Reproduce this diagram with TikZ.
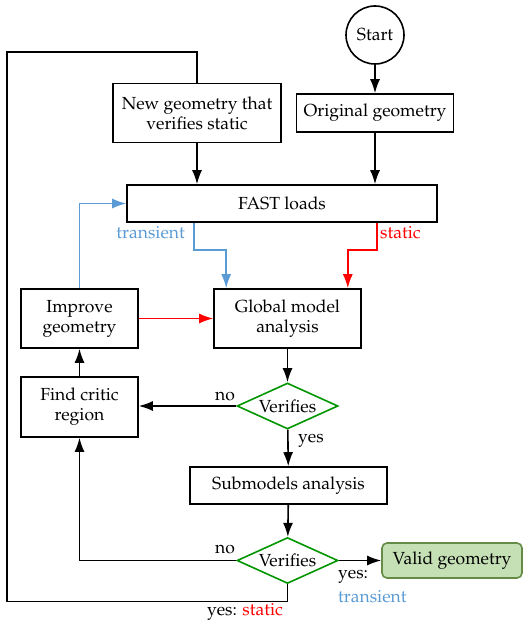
\documentclass[tikz,border=0pt]{standalone}
\usepackage[T1]{fontenc}
\usepackage{mathpazo}
\usetikzlibrary{shapes.geometric,arrows.meta,calc}
\definecolor{tblue}{RGB}{91,155,213}
\definecolor{vgreen}{RGB}{0,150,0}
\definecolor{okfill}{RGB}{197,224,180}
\definecolor{okdraw}{RGB}{100,140,70}
\begin{document}
\begin{tikzpicture}[x=1pt,y=-1pt,font=\fontsize{17.5}{20}\selectfont,
  box/.style={draw,line width=1.6pt,inner sep=0pt,align=center},
  dec/.style={diamond,draw=vgreen,line width=1.6pt,inner sep=0pt,aspect=2.2,minimum width=101pt,minimum height=46pt},
  arr/.style={-{Latex[length=14pt,width=10pt]},line width=1.6pt},
  ln/.style={line width=1.6pt},
  lab/.style={inner sep=0pt}]
\useasboundingbox (0,0) rectangle (532,623);
\node[draw,circle,line width=1.6pt,inner sep=0pt,minimum size=58pt] (start) at (375,35) {Start};
\node[box,minimum width=157pt,minimum height=38pt] (orig) at (375,113) {Original geometry};
\node[box,minimum width=168pt,minimum height=59pt] (newg) at (197,113) {New geometry that\\verifies static};
\node[box,minimum width=310pt,minimum height=37pt] (fast) at (282,203.5) {FAST loads};
\node[box,minimum width=147pt,minimum height=59pt] (glob) at (287.5,318.5) {Global model\\analysis};
\node[box,minimum width=117pt,minimum height=59pt] (imp) at (79.5,318.5) {Improve\\geometry};
\node[dec] (v1) at (287.5,406) {Verifies};
\node[box,minimum width=117pt,minimum height=60pt] (find) at (79.5,407) {Find critic\\region};
\node[box,minimum width=197pt,minimum height=37pt] (sub) at (288.5,485.5) {Submodels analysis};
\node[dec] (v2) at (287.5,560.5) {Verifies};
\node[box,draw=okdraw,fill=okfill,rounded corners=5pt,minimum width=140pt,minimum height=35pt] (valid) at (452,560.5) {Valid geometry};
\coordinate (lc) at (7,52);

\draw[arr] (start) -- (orig);
\draw[arr] (newg.south) -- (newg.south |- fast.north);
\draw[arr] (orig.south) -- (orig.south |- fast.north);
\draw[arr,tblue] ([xshift=68pt]fast.south west) -- ++(0,27) -| ([xshift=13pt]glob.north west);
\draw[arr,red] ([xshift=-61pt]fast.south east) -- ++(0,27) -| ([xshift=-14pt]glob.north east);
\node[lab,tblue,anchor=east] (tl) at (185,233) {transient};
\node[lab,red,anchor=west] (sl) at (380,233) {static};
\draw[arr,tblue] (imp.north) |- (fast.west);
\draw[arr,red] (imp.east) -- (glob.west);
\draw[arr] (glob) -- (v1);
\draw[arr] (v1.west) -- (v1.west -| find.east);
\node[lab] (no1) at (225,396) {no};
\draw[arr] (find) -- (imp);
\draw[arr] (v1) -- (sub);
\node[lab] (yes1) at (311,441) {yes};
\draw[arr] (sub) -- (v2);
\draw[arr] (v2.west) -| (find.south);
\node[lab] (no2) at (225,549) {no};
\draw[arr] (v2.east) -- (valid.west);
\node[lab,anchor=west] (yes2) at (338,577) {yes:};
\node[lab,anchor=west,tblue] (tr2) at (338,597) {transient};
\draw[ln] (v2.south) -- ++(0,17) -| (lc) -| (newg.north);
\node[lab] (ys) at (245,612) {yes: \textcolor{red}{static}};
\end{tikzpicture}
\end{document}
